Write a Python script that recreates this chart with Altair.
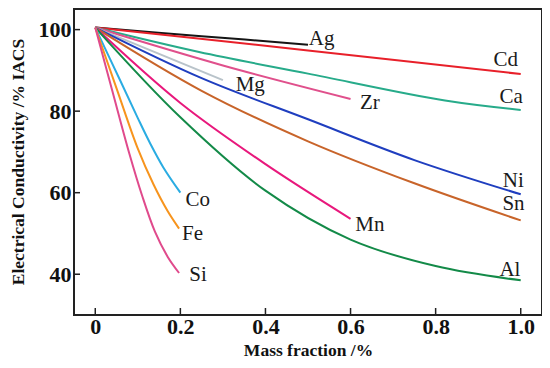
import altair as alt
import pandas as pd

SERIES = ["Ag", "Cd", "Ca", "Zr", "Mg", "Ni", "Sn", "Mn", "Al", "Co", "Fe", "Si"]
COLORS = ["#151515", "#e8202a", "#27ab8a", "#e0508c", "#b9c3ca", "#1f3ebf",
          "#c8642a", "#e8187c", "#138a48", "#2aace2", "#f7941d", "#e04a8c"]

AG_X = [0, 0.25, 0.5]
AG_Y = [100.5, 98.4, 96.3]
CD_X = [0, 0.5, 1.0]
CD_Y = [100.5, 94.9, 89.1]
CA_X = [0, 0.244, 0.5, 0.822, 1.0]
CA_Y = [100.5, 94.5, 89.2, 82.6, 80.3]
ZR_X = [0, 0.3, 0.6]
ZR_Y = [100.5, 91.2, 83.0]
MG_X = [0, 0.3]
MG_Y = [100.5, 87.6]
NI_X = [0, 0.25, 0.5, 0.75, 1.0]
NI_Y = [100.5, 88.1, 78.0, 68.0, 59.6]
SN_X = [0, 0.25, 0.5, 0.75, 1.0]
SN_Y = [100.5, 85.0, 72.6, 62.3, 53.2]
MN_X = [0, 0.2, 0.4, 0.6]
MN_Y = [100.5, 82.0, 67.0, 53.6]
AL_X = [0, 0.2, 0.4, 0.6, 0.8, 1.0]
AL_Y = [100.5, 78.5, 60.5, 48.5, 42.0, 38.5]
CO_X = [0, 0.06, 0.1, 0.13, 0.16, 0.2]
CO_Y = [100.5, 87.2, 78.3, 71.9, 66.2, 60.0]
FE_X = [0, 0.05, 0.1, 0.137, 0.17, 0.197]
FE_Y = [100.5, 85.6, 70.8, 62.0, 55.5, 51.2]
SI_X = [0, 0.04, 0.08, 0.11, 0.14, 0.17, 0.197]
SI_Y = [100.5, 85.0, 69.6, 59.3, 50.5, 44.3, 40.3]

LABEL_X = [0.502, 0.936, 0.95, 0.622, 0.33, 0.958, 0.957, 0.611, 0.95, 0.212, 0.204, 0.221]
LABEL_Y = [97.8, 92.5, 83.5, 82.0, 86.4, 62.8, 57.3, 52.0, 41.1, 58.2, 49.8, 39.7]

X_TICKS = [0, 0.2, 0.4, 0.6, 0.8, 1.0]
Y_TICKS = [40, 60, 80, 100]

XS = [AG_X, CD_X, CA_X, ZR_X, MG_X, NI_X, SN_X, MN_X, AL_X, CO_X, FE_X, SI_X]
YS = [AG_Y, CD_Y, CA_Y, ZR_Y, MG_Y, NI_Y, SN_Y, MN_Y, AL_Y, CO_Y, FE_Y, SI_Y]

rows = []
for name, xs, ys in zip(SERIES, XS, YS):
    for i, (x, y) in enumerate(zip(xs, ys)):
        rows.append({"series": name, "x": x, "y": y, "i": i})
df = pd.DataFrame(rows)
lab = pd.DataFrame({"series": SERIES, "x": LABEL_X, "y": LABEL_Y})
xt = pd.DataFrame({"x": X_TICKS})
yt = pd.DataFrame({"y": Y_TICKS})

W, H = 468, 307
FONT = "Liberation Serif"

xscale = alt.Scale(domain=[-0.05, 1.05], nice=False, zero=False)
yscale = alt.Scale(domain=[30, 105.3], nice=False, zero=False)

xaxis = alt.Axis(values=X_TICKS, title="Mass fraction /%",
                 labelExpr="datum.value == 0 ? '0' : format(datum.value, '.1f')",
                 labelPadding=1, titleBaseline="alphabetic", titleY=40, titleFontSize=17.5)
yaxis = alt.Axis(values=Y_TICKS, title="Electrical Conductivity /% IACS",
                 labelPadding=3, titleBaseline="middle", titleX=-56, titleFontSize=17.5)

lines = alt.Chart(df).mark_line(strokeWidth=2, interpolate="catmull-rom").encode(
    x=alt.X("x:Q", scale=xscale, axis=xaxis),
    y=alt.Y("y:Q", scale=yscale, axis=yaxis),
    color=alt.Color("series:N", scale=alt.Scale(domain=SERIES, range=COLORS), legend=None),
    order=alt.Order("i:Q"),
)

labels = alt.Chart(lab).mark_text(align="left", baseline="middle", font=FONT, fontSize=21,
                                  color="#1a1a1a").encode(
    x=alt.X("x:Q", scale=xscale),
    y=alt.Y("y:Q", scale=yscale),
    text="series:N",
)

xticks = alt.Chart(xt).mark_rule(color="#222", strokeWidth=1.5).encode(
    x=alt.X("x:Q", scale=xscale),
    y=alt.value(H), y2=alt.value(H - 7),
)
yticks = alt.Chart(yt).mark_rule(color="#222", strokeWidth=1.5).encode(
    y=alt.Y("y:Q", scale=yscale),
    x=alt.value(0), x2=alt.value(6),
)
frame = alt.Chart(xt).mark_rect(fill=None, stroke="#222", strokeWidth=2).encode(
    x=alt.value(0), x2=alt.value(W), y=alt.value(1), y2=alt.value(H),
)

chart = alt.layer(lines, labels, xticks, yticks, frame).properties(
    width=W, height=H,
    autosize=alt.AutoSizeParams(type="none"),
    padding={"left": 66, "top": 0, "right": 0, "bottom": 45},
    background="white",
).configure_view(stroke=None).configure_axis(
    grid=False, tickSize=0, domain=False,
    labelFont=FONT, labelFontWeight="bold", labelFontSize=22, labelColor="#111",
    titleFont=FONT, titleFontWeight="bold", titleColor="#111",
)

chart.save("out.html", embed_options={"renderer": "svg", "actions": False})
